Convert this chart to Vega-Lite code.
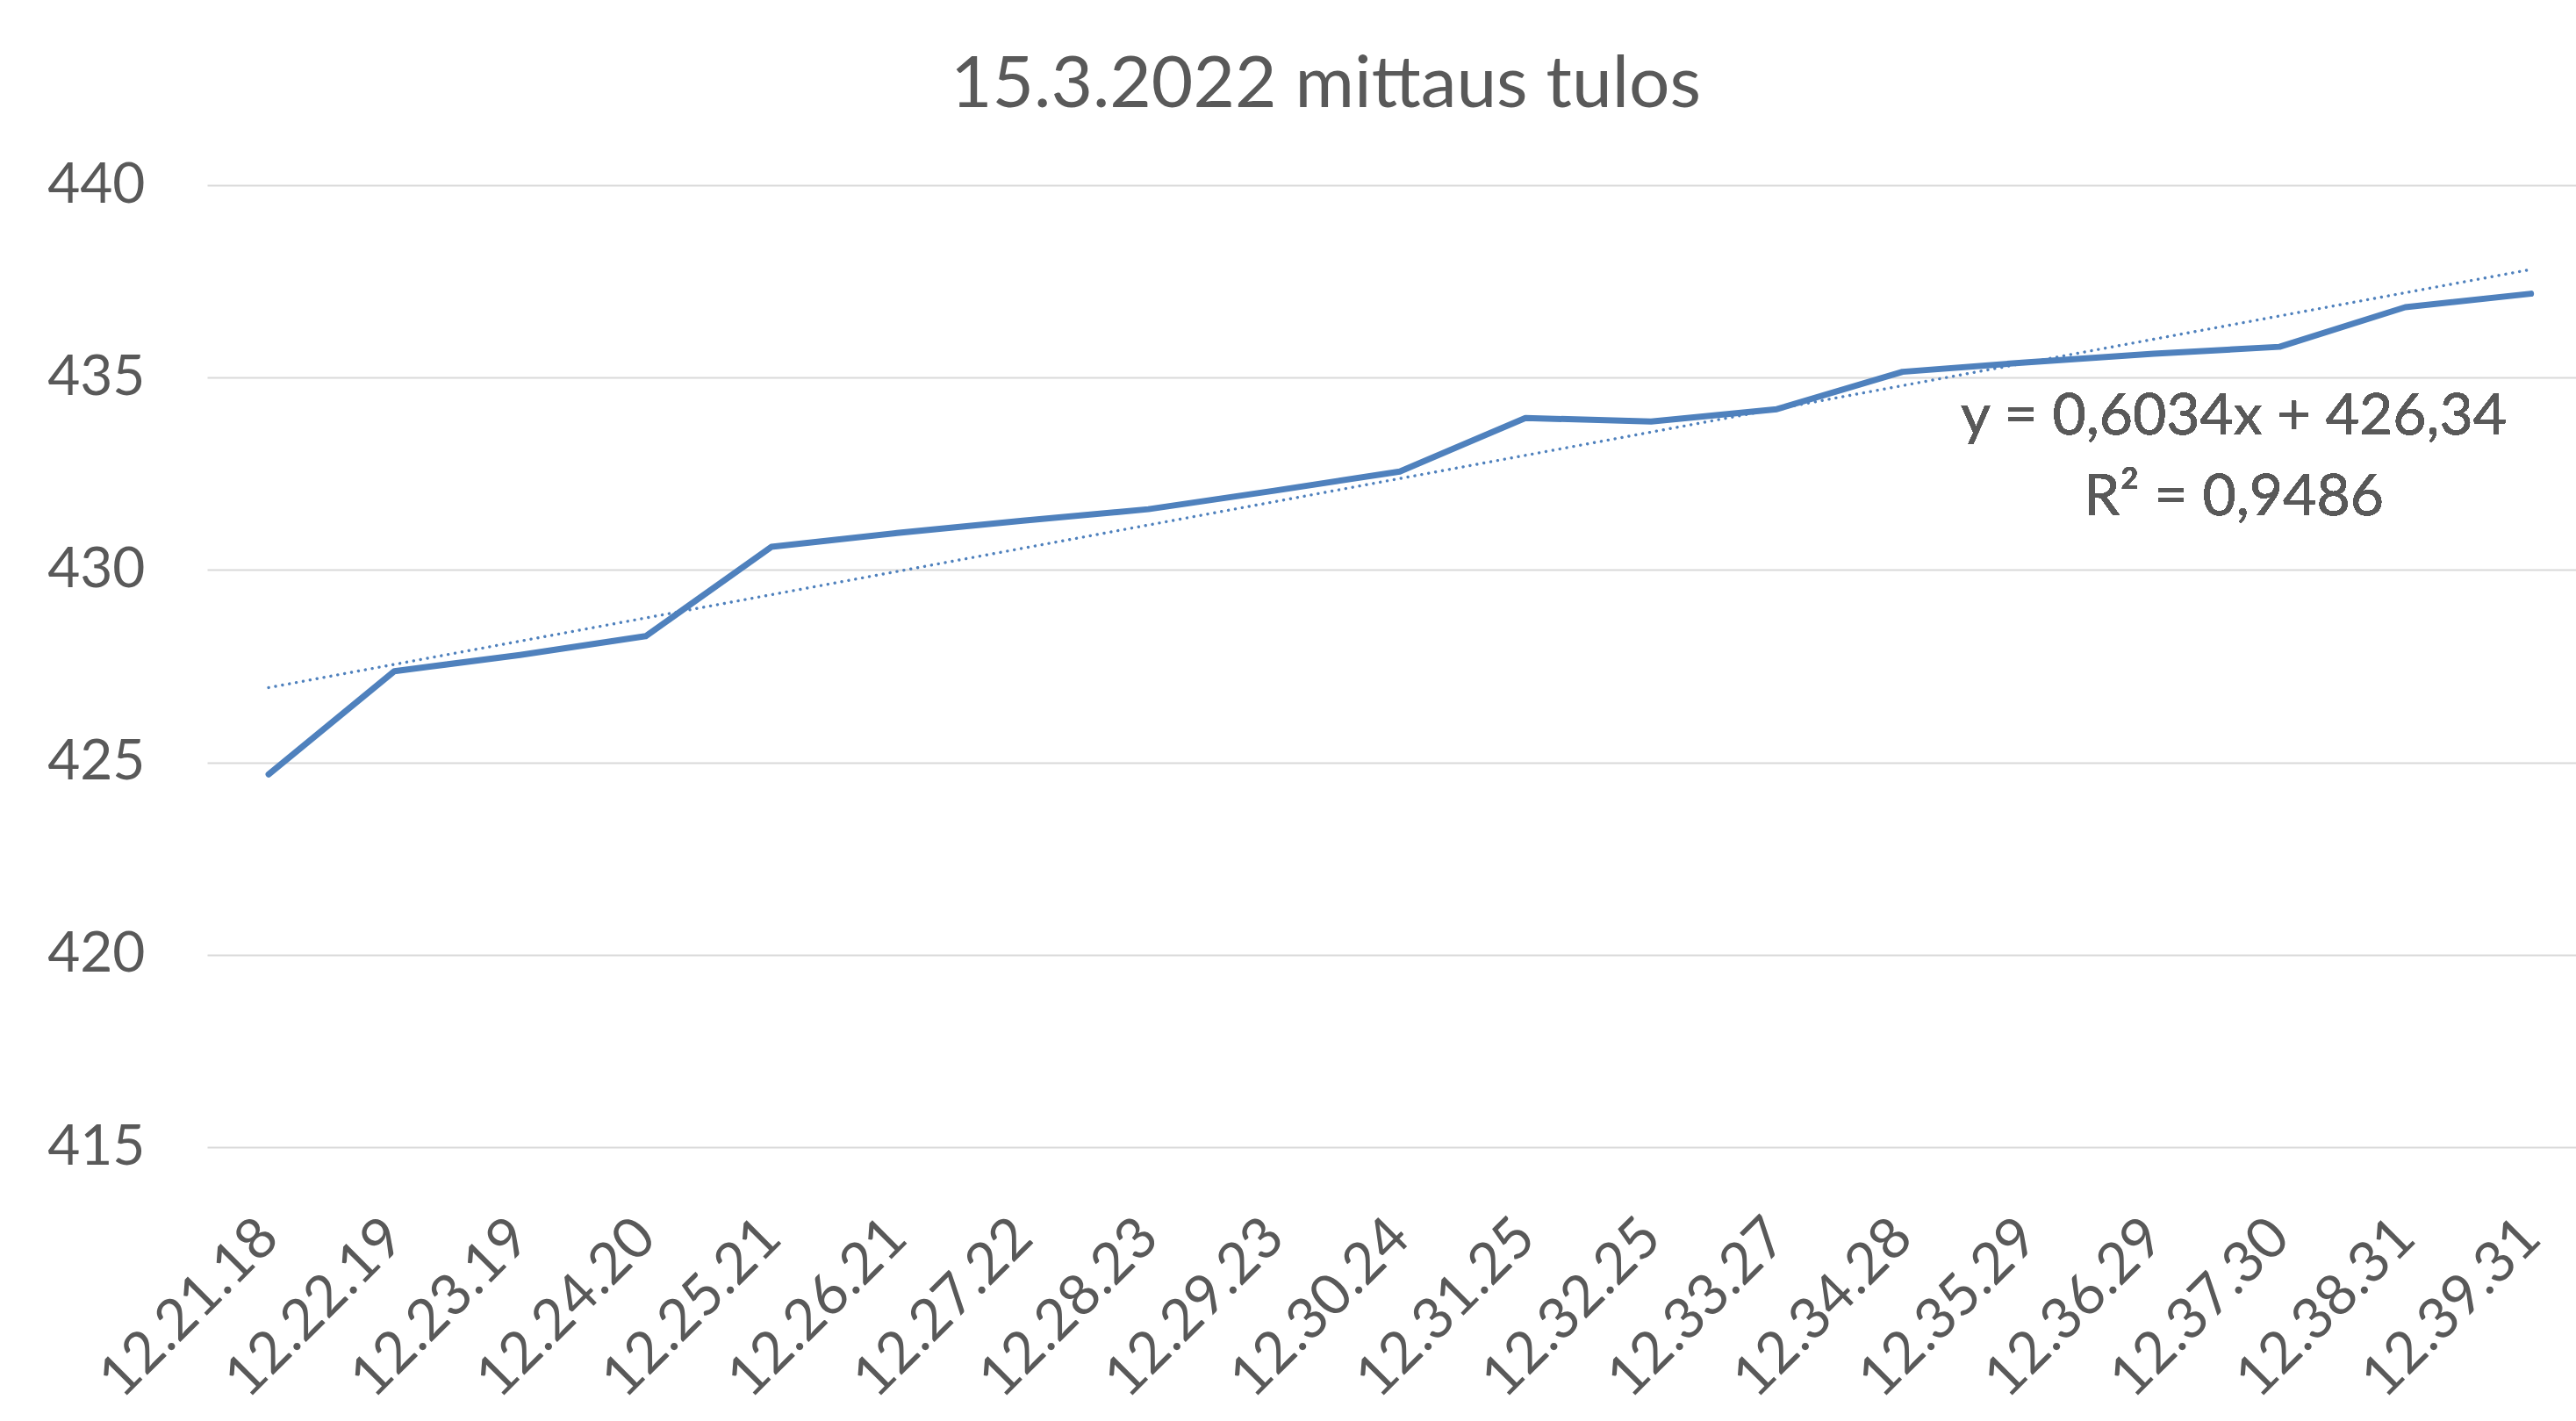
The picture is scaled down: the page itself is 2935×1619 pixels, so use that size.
{
  "$schema": "https://vega.github.io/schema/vega-lite/v6.json",
  "autosize": "none",
  "width": 2699,
  "height": 1096,
  "padding": {"left": 236, "top": 211, "right": 0, "bottom": 312},
  "background": "white",
  "config": {
    "font": "Lato",
    "view": {"stroke": null},
    "axis": {"labelColor": "#595959", "labelFont": "Lato", "labelFontSize": 64, "labelLimit": 0, "domain": false, "ticks": false, "titleColor": "#595959"}
  },
  "title": {
    "text": "15.3.2022 mittaus tulos",
    "font": "Lato",
    "fontSize": 82,
    "fontWeight": "normal",
    "color": "#595959",
    "anchor": "middle",
    "frame": "group",
    "dx": -75,
    "dy": 90,
    "baseline": "bottom",
    "offset": 48
  },
  "datasets": {
    "pts": [
      {"n": 1, "t": "12.21.18", "v": 424.69},
      {"n": 2, "t": "12.22.19", "v": 427.37},
      {"n": 3, "t": "12.23.19", "v": 427.79},
      {"n": 4, "t": "12.24.20", "v": 428.28},
      {"n": 5, "t": "12.25.21", "v": 430.60},
      {"n": 6, "t": "12.26.21", "v": 430.96},
      {"n": 7, "t": "12.27.22", "v": 431.28},
      {"n": 8, "t": "12.28.23", "v": 431.58},
      {"n": 9, "t": "12.29.23", "v": 432.06},
      {"n": 10, "t": "12.30.24", "v": 432.56},
      {"n": 11, "t": "12.31.25", "v": 433.95},
      {"n": 12, "t": "12.32.25", "v": 433.86},
      {"n": 13, "t": "12.33.27", "v": 434.18},
      {"n": 14, "t": "12.34.28", "v": 435.15},
      {"n": 15, "t": "12.35.29", "v": 435.40},
      {"n": 16, "t": "12.36.29", "v": 435.62},
      {"n": 17, "t": "12.37.30", "v": 435.80},
      {"n": 18, "t": "12.38.31", "v": 436.83},
      {"n": 19, "t": "12.39.31", "v": 437.18}
    ]
  },
  "data": {"name": "pts"},
  "encoding": {
    "x": {
      "field": "t",
      "type": "nominal",
      "sort": "ascending",
      "title": null,
      "scale": {"type": "point", "padding": 0.424, "align": 0.577},
      "axis": {"labelAngle": -45, "labelAlign": "right", "labelBaseline": "middle", "labelPadding": 92, "labelFontSize": 65, "grid": false}
    },
    "y": {
      "field": "v",
      "type": "quantitative",
      "title": null,
      "scale": {"domain": [415, 440], "nice": false, "zero": false},
      "axis": {"values": [415, 420, 425, 430, 435, 440], "grid": true, "gridColor": "#D9D9D9", "gridWidth": 2, "labelPadding": 71}
    }
  },
  "layer": [
    {
      "mark": {"type": "line", "color": "#4F81BD", "strokeWidth": 7, "strokeCap": "round", "strokeJoin": "round"}
    },
    {
      "transform": [
        {"regression": "v", "on": "n"},
        {"lookup": "n", "from": {"data": {"name": "pts"}, "key": "n", "fields": ["t"]}}
      ],
      "mark": {"type": "line", "color": "#4F81BD", "strokeWidth": 3.4, "strokeCap": "round", "strokeDash": [0.1, 7.9]}
    },
    {
      "mark": {"type": "text", "align": "center", "baseline": "alphabetic", "font": "Lato", "fontSize": 66, "color": "#595959", "lineHeight": 92, "dx": 91},
      "encoding": {
        "x": {"datum": "12.36.29"},
        "y": {"datum": 433.53},
        "text": {"value": ["y = 0,6034x + 426,34", "R² = 0,9486"]}
      }
    }
  ]
}
